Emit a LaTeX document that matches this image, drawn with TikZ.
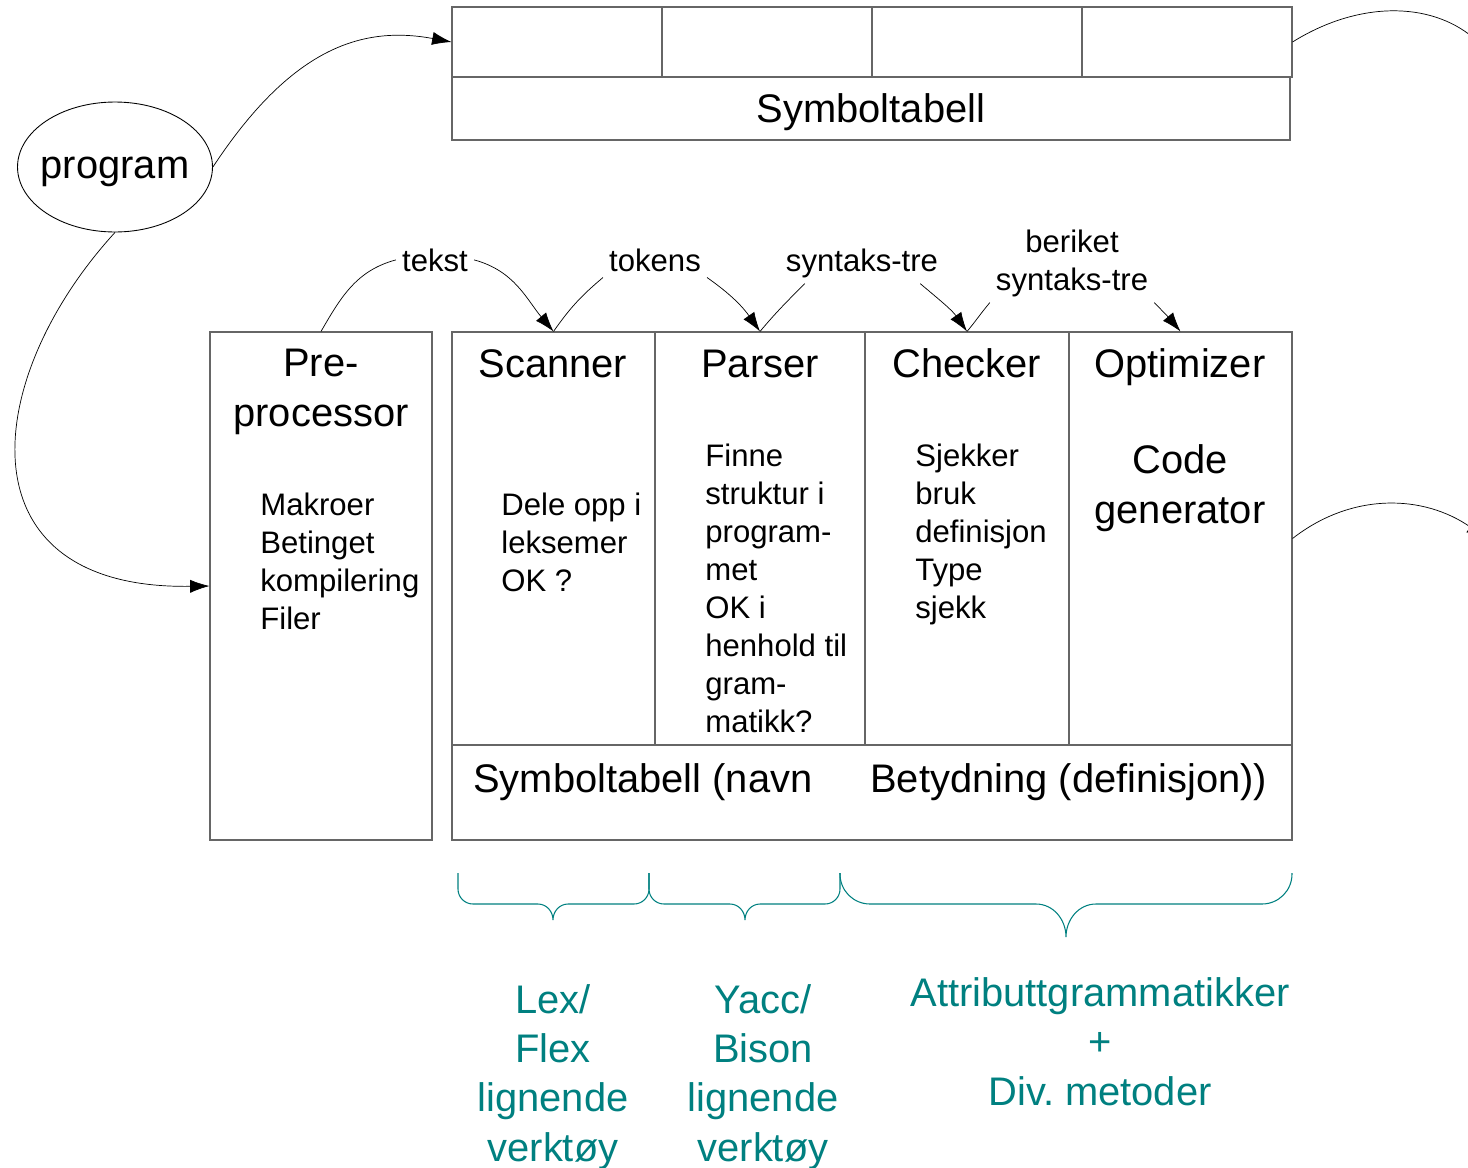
\documentclass[tikz,border=0pt]{standalone}
\usepackage{fontspec}
\setmainfont{Liberation Sans}
\usetikzlibrary{arrows.meta,shapes,fit}
\definecolor{verktoy}{RGB}{0,128,128}
\tikzset{
  box/.style={draw=black!60, line width=0.6pt, inner sep=0pt},
  stor/.style={font=\fontsize{22.7}{27.9}\selectfont},
  liten/.style={font=\fontsize{17.7}{21.6}\selectfont},
  flyt/.style={-{Latex[length=11pt,width=7.5pt]}},
  verk/.style={draw=verktoy, line width=0.6pt},
}
% klamme: venstre x, hoyre x, spiss x, spiss y, radius
\newcommand{\klamme}[5]{%
  \draw[verk] (#1,873) -- (#1,{904-#5}) to[out=-90,in=180] ({#1+#5},904)
    -- ({#3-#5},904) to[out=0,in=90] (#3,#4) to[out=90,in=180] ({#3+#5},904)
    -- ({#2-#5},904) to[out=0,in=-90] (#2,{904-#5}) -- (#2,873);}

\begin{document}
\begin{tikzpicture}[x=0.02cm,y=-0.02cm]
\useasboundingbox (0,0) rectangle (1468,1167);
% symboltabell oppe
\node[box,fit={(452,7) (662,77)}] (c1) {};
\node[box,fit={(662,7) (872,77)}] (c2) {};
\node[box,fit={(872,7) (1082,77)}] (c3) {};
\node[box,fit={(1082,7) (1292,77)}] (c4) {};
\node[box,fit={(452,77) (1290,140)}] (tab) {};
\node[stor,anchor=base] (tabtxt) at (871,122) {Symboltabell};
\coordinate (ut1) at (1488,50);
\draw[flyt] (c4.east) to[out=32,in=140] (ut1);

% program
\node[draw,ellipse,line width=0.5pt,minimum width=3.9cm,minimum height=2.6cm,inner sep=0pt] (prog) at (115,167) {};
\node[stor,anchor=base] (progtxt) at (115,178) {program};

% faser
\node[box,fit={(210,332) (432,840)}] (pre) {};
\node[box,fit={(452,332) (655,745)}] (scan) {};
\node[box,fit={(655,332) (865,745)}] (parse) {};
\node[box,fit={(865,332) (1069,745)}] (check) {};
\node[box,fit={(1069,332) (1292,745)}] (opt) {};
\node[box,fit={(452,745) (1292,840)}] (symb) {};

% titler (base = siste linje)
\node[stor,anchor=base,align=center] (pretit) at (321,426) {Pre-\\processor};
\node[stor,anchor=base] (scantit) at (553,377) {Scanner};
\node[stor,anchor=base] (parsetit) at (760,377) {Parser};
\node[stor,anchor=base] (checktit) at (967,377) {Checker};
\node[stor,anchor=base] (opttit) at (1180,377) {Optimizer};
\node[stor,anchor=base,align=center] (gentit) at (1180,523) {Code\\generator};

\node[liten,anchor=base west,align=left,inner sep=0pt] (pretxt) at (260,629) {Makroer\\Betinget\\kompilering\\Filer};
\node[liten,anchor=base west,align=left,inner sep=0pt] (scantxt) at (501,591) {Dele opp i\\leksemer\\OK ?};
\node[liten,anchor=base west,align=left,inner sep=0pt] (parsetxt) at (705,732) {Finne\\struktur i\\program-\\met\\OK i\\henhold til\\gram-\\matikk?};
\node[liten,anchor=base west,align=left,inner sep=0pt] (checktxt) at (915,618) {Sjekker\\bruk\\definisjon\\Type\\sjekk};

\node[stor,anchor=base west,inner sep=0pt] (navn) at (473,792) {Symboltabell (navn};
\node[stor,anchor=base west,inner sep=0pt] (betyd) at (870,792) {Betydning (definisjon))};

\coordinate (ut2) at (1486,538);
\draw[flyt] (opt.east) to[out=38,in=145] (ut2);

% piler mellom fasene
\node[liten,anchor=base] (tekst) at (435,271) {tekst};
\node[liten,anchor=base] (tok) at (655,271) {tokens};
\node[liten,anchor=base] (syn) at (862,271) {syntaks-tre};
\node[liten,anchor=base,align=center] (ber) at (1072,290) {beriket\\syntaks-tre};

\draw (pre.north) to[out=60,in=-165] (tekst.west);
\draw[flyt] (tekst.east) to[out=-15,in=130] (scan.north);
\draw (scan.north) to[out=55,in=-140] (tok.south west);
\draw[flyt] (tok.south east) to[out=-35,in=125] (parse.north);
\draw (parse.north) to[out=50,in=-135] ([xshift=0.5cm]syn.south west);
\draw[flyt] ([xshift=-0.48cm]syn.south east) to[out=-40,in=125] (check.north);
\draw (check.north) to[out=50,in=-130] (ber.south west);
\draw[flyt] (ber.south east) to[out=-45,in=130] (opt.north);

% program inn
\draw[flyt] (prog.east) .. controls (290,50) and (360,25) .. (c1.west);
\draw[flyt] (prog.south) .. controls (-20,380) and (-40,590) .. (pre.west);

% verktoy
\klamme{458}{649}{553}{920}{15}
\klamme{649}{840}{745}{920}{15}
\klamme{840}{1292}{1066}{937}{30}

\node[stor,text=verktoy,anchor=base,align=center] (lex) at (553,1161) {Lex/\\Flex\\lignende\\verktøy};
\node[stor,text=verktoy,anchor=base,align=center] (yacc) at (763,1161) {Yacc/\\Bison\\lignende\\verktøy};
\node[stor,text=verktoy,anchor=base,align=center] (attr) at (1100,1105) {Attributtgrammatikker\\+\\Div.\ metoder};
\end{tikzpicture}
\end{document}
